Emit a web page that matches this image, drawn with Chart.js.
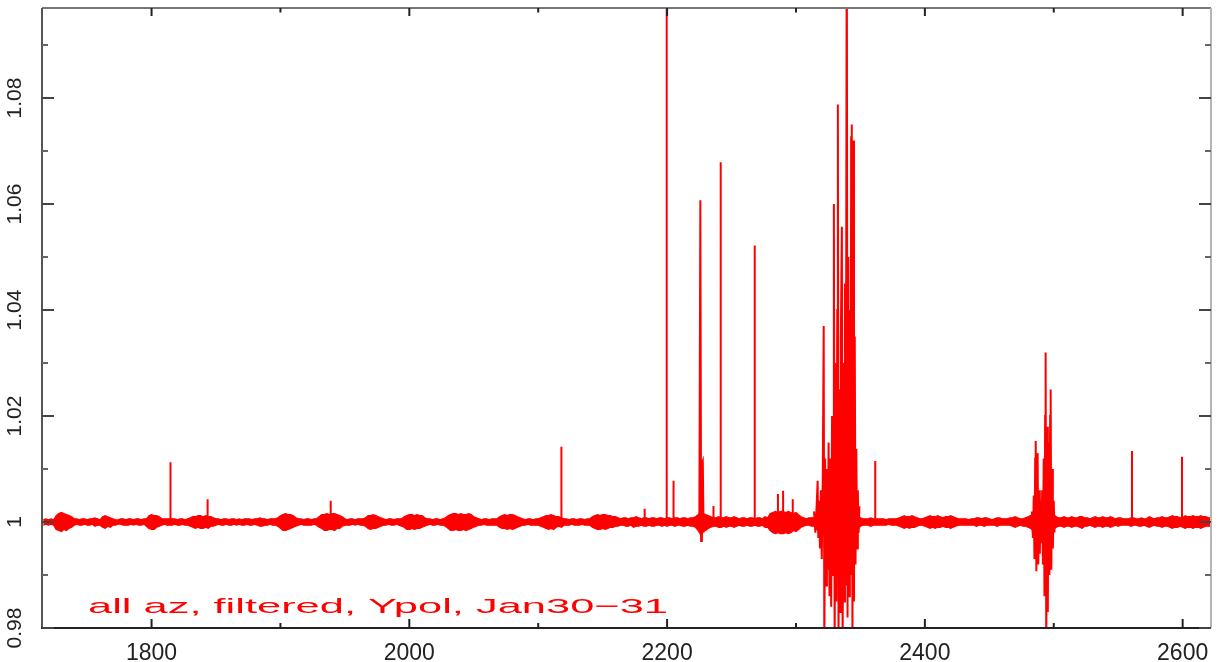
<!DOCTYPE html>
<html>
<head>
<meta charset="utf-8">
<script src="https://cdn.jsdelivr.net/npm/chart.js@4"></script>
<style>
  body { margin: 0; background: #ffffff; }
  #wrap { width: 1225px; height: 662px; position: relative; }
</style>
</head>
<body>
<div id="wrap"><canvas id="polChart"></canvas></div>
<script>
// axis ticks
const xMajorTicks = [1800, 2000, 2200, 2400, 2600];
const xMinorTicks = [1900, 2100, 2300, 2500];
const yMajorTicks = [0.98, 1, 1.02, 1.04, 1.06, 1.08];
const yMinorTicks = [0.99, 1.01, 1.03, 1.05, 1.07, 1.09];
const yTickLabels = ["0.98", "1", "1.02", "1.04", "1.06", "1.08"];

const noteText = "all az, filtered, Ypol, Jan30\u221231";

// baseline noise envelope, one sample every 2 units from 1716,
// upper and lower excursion from 1 in units of 0.0002
const noiseStart = 1716;
const noiseStep = 2;
const noiseUnit = 0.0002;
const noiseUp = [
  2, 3, 2, 3, 2, 6, 8, 9, 8, 7, 6, 5, 3, 3, 2, 3, 3, 2, 3, 3, 4, 3, 2, 5, 6,
  5, 4, 3, 2, 2, 3, 3, 2, 3, 3, 2, 3, 3, 2, 3, 3, 6, 7, 6, 6, 5, 3, 3, 3, 3,
  3, 3, 2, 3, 3, 2, 3, 4, 5, 5, 6, 6, 5, 6, 5, 5, 4, 3, 3, 2, 3, 3, 2, 3, 3,
  2, 3, 2, 3, 3, 3, 2, 3, 3, 4, 3, 3, 2, 3, 3, 3, 4, 6, 7, 8, 7, 7, 6, 4, 3,
  3, 2, 3, 3, 2, 3, 3, 5, 7, 7, 8, 7, 8, 8, 7, 6, 5, 3, 2, 3, 3, 2, 3, 3, 3,
  4, 6, 6, 7, 6, 5, 4, 3, 2, 3, 3, 2, 3, 3, 3, 5, 6, 7, 7, 6, 7, 6, 6, 4, 3,
  3, 2, 3, 3, 2, 3, 4, 6, 7, 8, 8, 7, 8, 7, 7, 8, 7, 5, 4, 3, 2, 3, 3, 2, 3,
  3, 3, 5, 6, 7, 6, 7, 7, 6, 5, 4, 3, 2, 3, 3, 2, 3, 3, 4, 5, 6, 6, 7, 6, 5,
  5, 4, 3, 3, 2, 3, 3, 2, 3, 3, 2, 3, 3, 5, 6, 7, 6, 7, 7, 6, 6, 5, 5, 4, 3,
  4, 4, 3, 4, 4, 5, 4, 3, 4, 4, 3, 4, 4, 3, 4, 4, 3, 4, 4, 3, 4, 4, 3, 4, 4,
  3, 4, 4, 5, 7, 9, 8, 7, 6, 5, 4, 4, 5, 4, 4, 5, 4, 4, 5, 4, 3, 4, 4, 3, 4,
  4, 3, 4, 4, 3, 5, 4, 8, 9, 10, 9, 10, 10, 9, 10, 9, 8, 9, 7, 5, 4, 3, 4, 4, 4,
  7, 9, 10, 12, 13, 14, 15, 16, 18, 17, 16, 18, 17, 16, 14, 12, 7, 4, 3, 3, 3, 4, 3, 3, 3,
  3, 3, 2, 3, 3, 3, 3, 4, 5, 6, 5, 5, 6, 5, 4, 3, 3, 4, 5, 6, 5, 5, 6, 5, 4,
  5, 5, 6, 5, 4, 3, 3, 3, 3, 2, 3, 3, 4, 4, 3, 4, 4, 3, 2, 3, 4, 4, 3, 3, 3,
  4, 4, 5, 4, 3, 3, 4, 5, 6, 8, 10, 12, 9, 10, 12, 11, 9, 7, 5, 4, 4, 5, 4, 4, 5,
  4, 4, 5, 5, 4, 4, 3, 4, 5, 4, 4, 5, 4, 4, 5, 4, 3, 4, 4, 3, 3, 3, 4, 4, 3,
  3, 4, 3, 3, 5, 4, 3, 4, 4, 5, 4, 4, 5, 6, 5, 5, 4, 4, 6, 5, 5, 6, 5, 5, 6,
  5, 5, 4, 4
];
const noiseDown = [
  3, 2, 3, 2, 3, 7, 8, 9, 7, 8, 6, 5, 3, 2, 3, 3, 2, 3, 3, 2, 4, 3, 3, 5, 6,
  4, 5, 3, 3, 2, 2, 3, 3, 3, 2, 3, 2, 3, 3, 2, 4, 6, 7, 7, 5, 4, 3, 2, 3, 3,
  3, 2, 3, 3, 2, 3, 3, 4, 5, 6, 5, 6, 6, 5, 6, 4, 4, 3, 2, 3, 3, 2, 3, 3, 2,
  3, 2, 3, 3, 2, 3, 3, 2, 3, 4, 4, 3, 3, 2, 3, 3, 4, 6, 8, 8, 7, 6, 5, 4, 3,
  2, 3, 3, 3, 3, 2, 3, 5, 6, 8, 8, 7, 7, 8, 6, 6, 4, 3, 3, 3, 2, 3, 2, 3, 3,
  4, 6, 7, 6, 6, 5, 4, 3, 3, 2, 3, 3, 2, 3, 4, 5, 7, 7, 6, 7, 6, 6, 5, 4, 3,
  2, 3, 3, 2, 3, 3, 4, 6, 8, 8, 7, 8, 8, 7, 8, 7, 6, 5, 4, 3, 3, 2, 3, 3, 3,
  3, 3, 5, 6, 6, 7, 6, 7, 6, 5, 4, 3, 3, 2, 3, 3, 3, 3, 4, 5, 6, 7, 6, 7, 5,
  4, 5, 3, 3, 3, 2, 3, 3, 3, 2, 3, 3, 3, 5, 6, 7, 7, 6, 7, 6, 5, 5, 4, 4, 3,
  3, 4, 4, 3, 5, 4, 4, 3, 4, 4, 3, 4, 4, 3, 3, 4, 3, 4, 3, 3, 4, 3, 3, 4, 4,
  3, 4, 4, 5, 8, 12, 9, 8, 6, 5, 4, 4, 5, 5, 4, 5, 4, 4, 5, 4, 3, 4, 4, 3, 4,
  4, 3, 4, 4, 3, 5, 5, 8, 10, 11, 10, 11, 11, 10, 11, 10, 8, 9, 7, 5, 4, 3, 3, 4, 4,
  7, 9, 11, 13, 14, 15, 16, 17, 18, 18, 17, 18, 17, 15, 14, 11, 7, 4, 3, 3, 3, 4, 3, 3, 3,
  3, 3, 3, 2, 3, 3, 3, 4, 5, 6, 5, 6, 5, 5, 4, 3, 3, 4, 5, 6, 5, 6, 5, 5, 4,
  5, 5, 6, 5, 4, 3, 3, 3, 3, 3, 3, 3, 4, 3, 3, 4, 3, 3, 3, 3, 4, 3, 3, 3, 3,
  3, 4, 5, 4, 3, 4, 4, 5, 6, 8, 11, 12, 10, 11, 13, 12, 10, 7, 5, 4, 4, 5, 4, 4, 5,
  4, 4, 5, 6, 4, 4, 3, 4, 5, 4, 4, 5, 4, 4, 5, 4, 3, 4, 3, 3, 3, 3, 4, 3, 3,
  4, 4, 3, 4, 5, 4, 3, 4, 4, 5, 4, 4, 5, 6, 5, 5, 4, 5, 6, 5, 5, 6, 5, 5, 6,
  5, 4, 4, 4
];

// isolated single spikes rising from the baseline
const spikeX = [1814.7, 1843.5, 1939, 2118, 2182.6, 2199.7, 2205, 2236, 2241.6,
  2268, 2286, 2290, 2297.5, 2361.5, 2560.7, 2599.5];
const spikeY = [1.0113, 1.0043, 1.004, 1.0142, 1.0025, 1.12, 1.0078, 1.003, 1.0679,
  1.0522, 1.0053, 1.0059, 1.0043, 1.0115, 1.0134, 1.0123];

// the bursts, each read point by point
const burst1X = [2225, 2225.8, 2226.4, 2227, 2227.7, 2228.3];
const burst1Y = [0.999, 1.0607, 0.9964, 1.011, 1.0115, 0.998];

const burst2X = [
  2314, 2315, 2316, 2316.8, 2317.3, 2318, 2318.6, 2319.3, 2320, 2320.8, 2321.5, 2322, 2322.6, 2323.3,
  2324, 2324.6, 2325.3, 2326, 2326.7, 2327.3, 2328, 2328.8, 2329.4, 2330, 2330.7, 2331.3, 2332, 2332.5,
  2333, 2333.6, 2334.2, 2334.8, 2335.6, 2336.2, 2336.8, 2337.4, 2338, 2338.6, 2339.4, 2340, 2340.6,
  2341.2, 2341.8, 2342.4, 2342.8, 2343.3, 2343.8, 2344.4, 2345, 2345.6, 2346.2, 2346.8, 2347.4, 2348,
  2348.6, 2349.2
];
const burst2Y = [
  1.002, 0.998, 1.003, 1.0078, 0.997, 1.004, 0.995, 1.006, 0.993, 1.009, 1.037, 0.975, 1.012, 0.988,
  1.01, 0.991, 1.015, 0.986, 1.012, 0.984, 1.02, 0.99, 1.06, 0.975, 1.03, 0.985, 1.04, 1.0788,
  0.975, 1.025, 0.983, 1.035, 1.0557, 0.975, 1.03, 0.985, 1.045, 0.988, 1.12, 0.982, 1.05,
  0.986, 1.04, 0.99, 1.0726, 1.075, 0.975, 1.072, 0.985, 1.035, 0.992, 1.0138, 0.995, 1.006,
  0.998, 1.003
];

const burst3X = [
  2483, 2483.8, 2484.5, 2485, 2485.6, 2486, 2486.5, 2487, 2487.5, 2488, 2488.6, 2489.2, 2489.8,
  2490.4, 2491, 2491.6, 2492.2, 2492.8, 2493.3, 2493.7, 2494.2, 2494.8, 2495.4, 2496, 2496.6, 2497.2,
  2497.6, 2498.1, 2498.7, 2499.3, 2500, 2500.6
];
const burst3Y = [
  1.002, 0.997, 1.005, 0.993, 1.012, 1.0153, 0.9907, 1.008, 1.013, 0.992, 1.006, 0.994, 1.004,
  0.996, 1.006, 0.992, 1.012, 0.986, 1.02, 1.032, 0.975, 1.018, 0.983, 1.015, 0.99, 1.02,
  1.025, 0.991, 1.01, 0.995, 1.004, 0.998
];

// upper and lower edges of the noise band
const upperEdge = noiseUp.map((v, i) => ({ x: noiseStart + i * noiseStep, y: 1 + v * noiseUnit }));
const lowerEdge = noiseDown.map((v, i) => ({ x: noiseStart + i * noiseStep, y: 1 - v * noiseUnit }));

// spikes: vertical strokes from 1, bursts as connected runs, split by gaps
const spikePoints = [];
spikeX.forEach((x, i) => {
  spikePoints.push({ x: x, y: 1 }, { x: x, y: spikeY[i] }, { x: x, y: 1 }, { x: x, y: null });
});
[[burst1X, burst1Y], [burst2X, burst2Y], [burst3X, burst3Y]].forEach(([bx, by]) => {
  bx.forEach((x, i) => spikePoints.push({ x: x, y: by[i] }));
  spikePoints.push({ x: bx[bx.length - 1], y: null });
});
spikePoints.sort((a, b) => a.x - b.x);

// frame, inward tick marks and the note
const framePlugin = {
  id: "frame",
  afterDraw(chart) {
    const c = chart.ctx;
    const a = chart.chartArea;
    const xs = chart.scales.x;
    const ys = chart.scales.y;
    c.save();
    c.lineWidth = 2;

    c.strokeStyle = "#777777";
    c.beginPath(); c.moveTo(a.left, a.top); c.lineTo(a.right, a.top); c.stroke();
    c.strokeStyle = "#b5b5b5";
    c.beginPath(); c.moveTo(a.right, a.top); c.lineTo(a.right, a.bottom); c.stroke();
    c.strokeStyle = "#555555";
    c.beginPath(); c.moveTo(a.left, a.top); c.lineTo(a.left, a.bottom); c.stroke();
    c.strokeStyle = "#222222";
    c.beginPath(); c.moveTo(a.left - 1, a.bottom); c.lineTo(a.right, a.bottom); c.stroke();

    function ticks(values, len, color, horizontal) {
      c.strokeStyle = color;
      values.forEach((v) => {
        c.beginPath();
        if (horizontal) {
          const px = xs.getPixelForValue(v);
          c.moveTo(px, a.bottom); c.lineTo(px, a.bottom - len);
          c.moveTo(px, a.top); c.lineTo(px, a.top + len * 0.9);
        } else {
          const py = ys.getPixelForValue(v);
          c.moveTo(a.left, py); c.lineTo(a.left + len, py);
          c.moveTo(a.right, py); c.lineTo(a.right - len, py);
        }
        c.stroke();
      });
    }
    ticks(xMajorTicks, 9, "#222222", true);
    ticks(xMinorTicks, 5, "#222222", true);
    ticks(yMajorTicks, 12, "#444444", false);
    ticks(yMinorTicks, 6, "#666666", false);

    c.font = "21px 'Liberation Sans'";
    c.fillStyle = "#ff0000";
    c.textBaseline = "alphabetic";
    const w = c.measureText(noteText).width;
    c.translate(88, 613);
    c.scale(580 / w, 1);
    c.fillText(noteText, 0, 0);
    c.restore();
  },
};

new Chart(document.getElementById("polChart"), {
  type: "scatter",
  data: {
    datasets: [
      {
        label: "spikes",
        data: spikePoints,
        showLine: true,
        spanGaps: false,
        borderColor: "#ff0000",
        borderWidth: 2,
        pointRadius: 0,
        tension: 0,
      },
      {
        label: "band top",
        data: upperEdge,
        showLine: true,
        borderColor: "#ff0000",
        backgroundColor: "#ff0000",
        borderWidth: 1.2,
        pointRadius: 0,
        tension: 0,
        fill: "+1",
      },
      {
        label: "band bottom",
        data: lowerEdge,
        showLine: true,
        borderColor: "#ff0000",
        borderWidth: 1.2,
        pointRadius: 0,
        tension: 0,
        fill: false,
      },
    ],
  },
  options: {
    responsive: true,
    maintainAspectRatio: false,
    animation: false,
    layout: {
      padding: { top: 8, right: 14, left: 0, bottom: 0 },
    },
    plugins: {
      legend: { display: false },
      tooltip: { enabled: false },
    },
    scales: {
      x: {
        type: "linear",
        min: 1715,
        max: 2622,
        grid: { display: false, drawTicks: false },
        border: { display: false },
        afterBuildTicks: (scale) => {
          scale.ticks = xMajorTicks.map((v) => ({ value: v }));
        },
        afterFit: (scale) => {
          scale.height = 34;
          scale.paddingLeft = 0;
          scale.paddingRight = 0;
        },
        ticks: {
          autoSkip: false,
          maxRotation: 0,
          padding: 12,
          color: "#222222",
          font: { family: "'Liberation Sans', Arial", size: 23 },
          callback: (value) => String(value),
        },
      },
      y: {
        min: 0.98,
        max: 1.097,
        grid: { display: false, drawTicks: false },
        border: { display: false },
        afterBuildTicks: (scale) => {
          scale.ticks = yMajorTicks.map((v) => ({ value: v }));
        },
        afterFit: (scale) => {
          scale.width = 42;
          scale.paddingTop = 0;
          scale.paddingBottom = 0;
        },
        ticks: {
          autoSkip: false,
          minRotation: 90,
          maxRotation: 90,
          crossAlign: "center",
          padding: 6,
          color: "#222222",
          font: { family: "'Liberation Sans', Arial", size: 21 },
          callback: (value, index) => yTickLabels[index],
        },
      },
    },
  },
  plugins: [framePlugin],
});
</script>
</body>
</html>
